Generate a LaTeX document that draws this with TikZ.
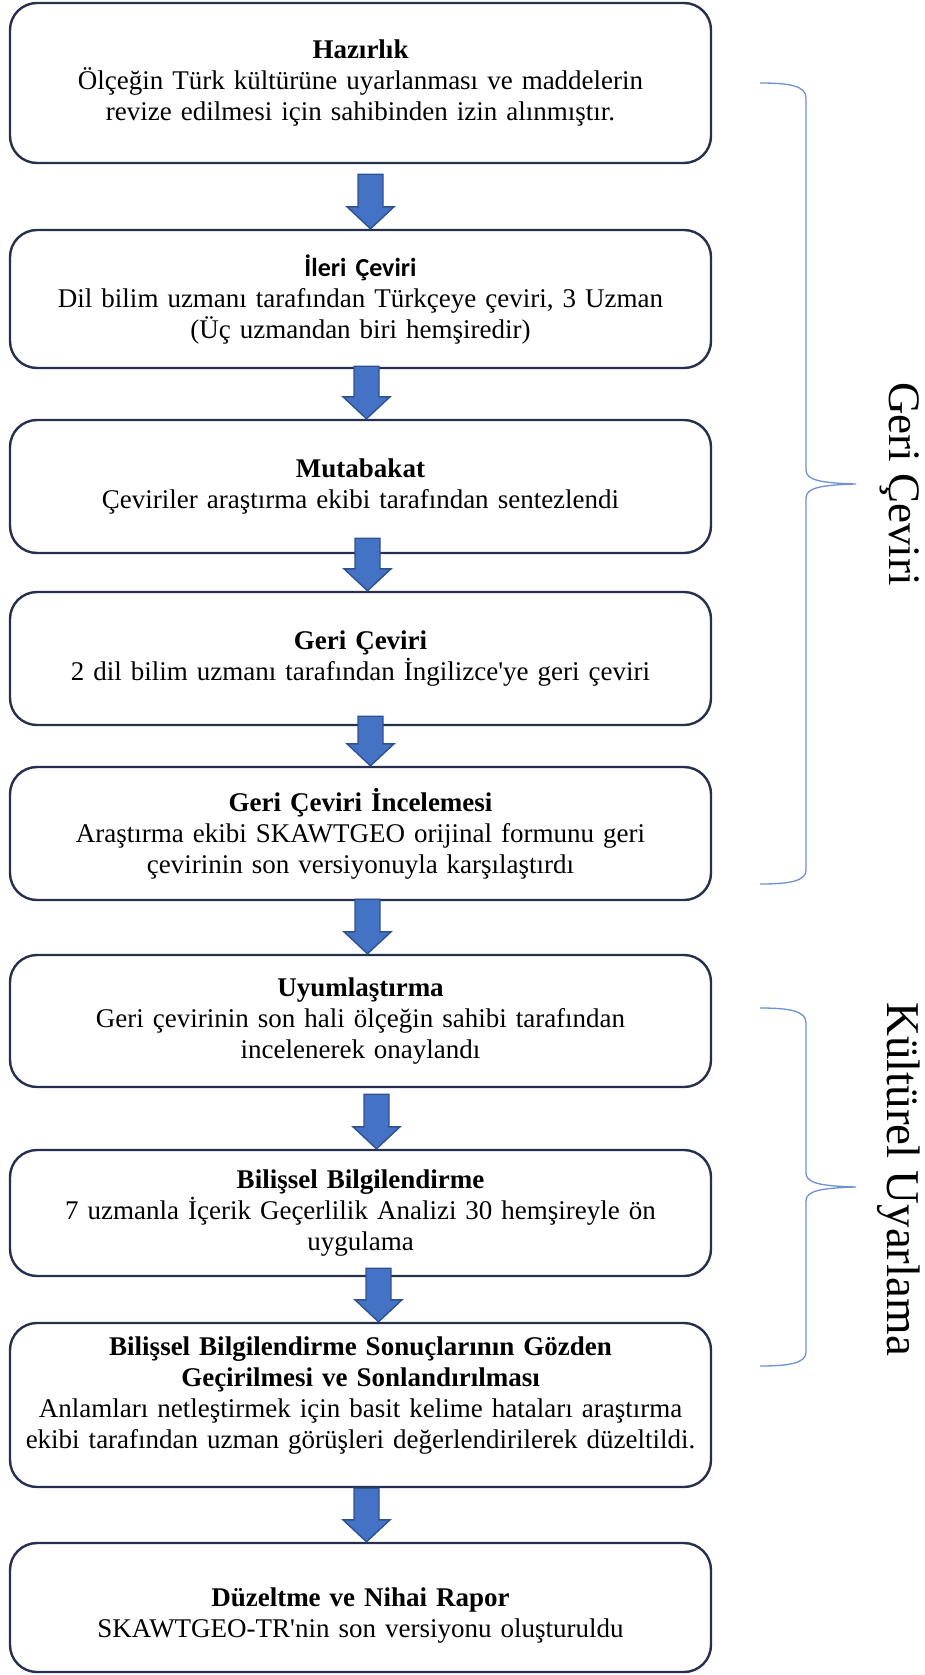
\documentclass[tikz,border=0pt]{standalone}
\usepackage{fontspec}
\setmainfont{Liberation Serif}
\newfontfamily\calibrilike{Carlito}
\usetikzlibrary{calc}

\definecolor{boxline}{RGB}{36,48,78}
\definecolor{arrowfill}{RGB}{68,114,196}
\definecolor{arrowline}{RGB}{47,82,143}
\definecolor{bracecol}{RGB}{110,145,210}

\tikzset{
  stepbox/.style={draw=boxline, line width=2.4pt, rounded corners=27pt,
    fill=white, minimum width=701pt, text width=690pt, align=center,
    inner sep=0pt, font=\fontsize{27}{31}\selectfont},
  blockarrow/.style={fill=arrowfill, draw=arrowline, line width=1.4pt, line join=miter},
  bracepath/.style={draw=bracecol, line width=1.3pt},
  sidelabel/.style={rotate=-90, inner sep=0pt}
}

% block arrow from the bottom of box #1 to the top of box #2,
% shifted #3 sideways, starting #4 below the upper box edge
\newcommand\flowarrow[4]{%
  \filldraw[blockarrow]
    let \p1=($(#1.south)+(#3,#4)$), \p2=($(#2.north)+(#3,0)$) in
    (\x1-12.5pt,\y1) -- (\x1+12.5pt,\y1) -- (\x1+12.5pt,\y2+22pt)
    -- (\x1+23.5pt,\y2+22pt) -- (\x1,\y2) -- (\x1-23.5pt,\y2+22pt)
    -- (\x1-12.5pt,\y2+22pt) -- cycle;}

\begin{document}
\begin{tikzpicture}[x=1pt, y=-1pt]
\useasboundingbox (0,0) rectangle (924,1675);

\node[stepbox, minimum height=160pt] (b1) at (360.5,83)
  {\textbf{Hazırlık}\\Ölçeğin Türk kültürüne uyarlanması ve maddelerin\\revize edilmesi için sahibinden izin alınmıştır.};
\node[stepbox, minimum height=138pt] (b2) at (360.5,299)
  {{\calibrilike\bfseries\fontsize{26}{31}\selectfont İleri Çeviri}\\Dil bilim uzmanı tarafından Türkçeye çeviri, 3 Uzman\\(Üç uzmandan biri hemşiredir)};
\node[stepbox, minimum height=133pt] (b3) at (360.5,486.5)
  {\textbf{Mutabakat}\\Çeviriler araştırma ekibi tarafından sentezlendi};
\node[stepbox, minimum height=133pt] (b4) at (360.5,658.5)
  {\textbf{Geri Çeviri}\\2 dil bilim uzmanı tarafından İngilizce\textquotesingle ye geri çeviri};
\node[stepbox, minimum height=133pt] (b5) at (360.5,833.5)
  {\textbf{Geri Çeviri İncelemesi}\\Araştırma ekibi SKAWTGEO orijinal formunu geri\\çevirinin son versiyonuyla karşılaştırdı};
\node[stepbox, minimum height=132pt] (b6) at (360.5,1021)
  {\textbf{Uyumlaştırma}\\Geri çevirinin son hali ölçeğin sahibi tarafından\\incelenerek onaylandı};
\node[stepbox, minimum height=126pt] (b7) at (360.5,1213)
  {\textbf{Bilişsel Bilgilendirme}\\7 uzmanla İçerik Geçerlilik Analizi 30 hemşireyle ön\\uygulama};
\node[stepbox, minimum height=164pt] (b8) at (360.5,1405)
  {\textbf{Bilişsel Bilgilendirme Sonuçlarının Gözden}\\\textbf{Geçirilmesi ve Sonlandırılması}\\Anlamları netleştirmek için basit kelime hataları araştırma\\ekibi tarafından uzman görüşleri değerlendirilerek düzeltildi.\rule[-25pt]{0pt}{25pt}};
\node[stepbox, minimum height=129pt] (b9) at (360.5,1607.5)
  {\rule{0pt}{34pt}\textbf{Düzeltme ve Nihai Rapor}\\SKAWTGEO-TR\textquotesingle nin son versiyonu oluşturuldu};

% arrows between consecutive steps
\flowarrow{b1}{b2}{10}{10}
\flowarrow{b2}{b3}{6}{-3}
\flowarrow{b3}{b4}{7}{-16}
\flowarrow{b4}{b5}{10}{-10}
\flowarrow{b5}{b6}{7}{-2}
\flowarrow{b6}{b7}{16}{6}
\flowarrow{b7}{b8}{18}{-9}
\flowarrow{b8}{b9}{6}{0}

% phase braces
\coordinate (g1) at (760,83);
\coordinate (g2) at (856,484);
\coordinate (g3) at (760,884);
\draw[bracepath] (g1) .. controls (790,83) and (806,86) .. (806,98)
  -- (806,470) .. controls (806,480) and (820,483) .. (g2)
  .. controls (820,485) and (806,488) .. (806,498)
  -- (806,870) .. controls (806,881) and (790,884) .. (g3);
\node[sidelabel, font=\fontsize{45}{50}\selectfont] (lg) at (900,484) {Geri Çeviri};

\coordinate (k1) at (760,1008);
\coordinate (k2) at (856,1187);
\coordinate (k3) at (760,1366);
\draw[bracepath] (k1) .. controls (790,1008) and (806,1011) .. (806,1023)
  -- (806,1173) .. controls (806,1183) and (820,1186) .. (k2)
  .. controls (820,1188) and (806,1191) .. (806,1201)
  -- (806,1352) .. controls (806,1363) and (790,1366) .. (k3);
\node[sidelabel, font=\fontsize{47}{52}\selectfont] (lk) at (899,1179) {Kültürel Uyarlama};
\end{tikzpicture}
\end{document}
